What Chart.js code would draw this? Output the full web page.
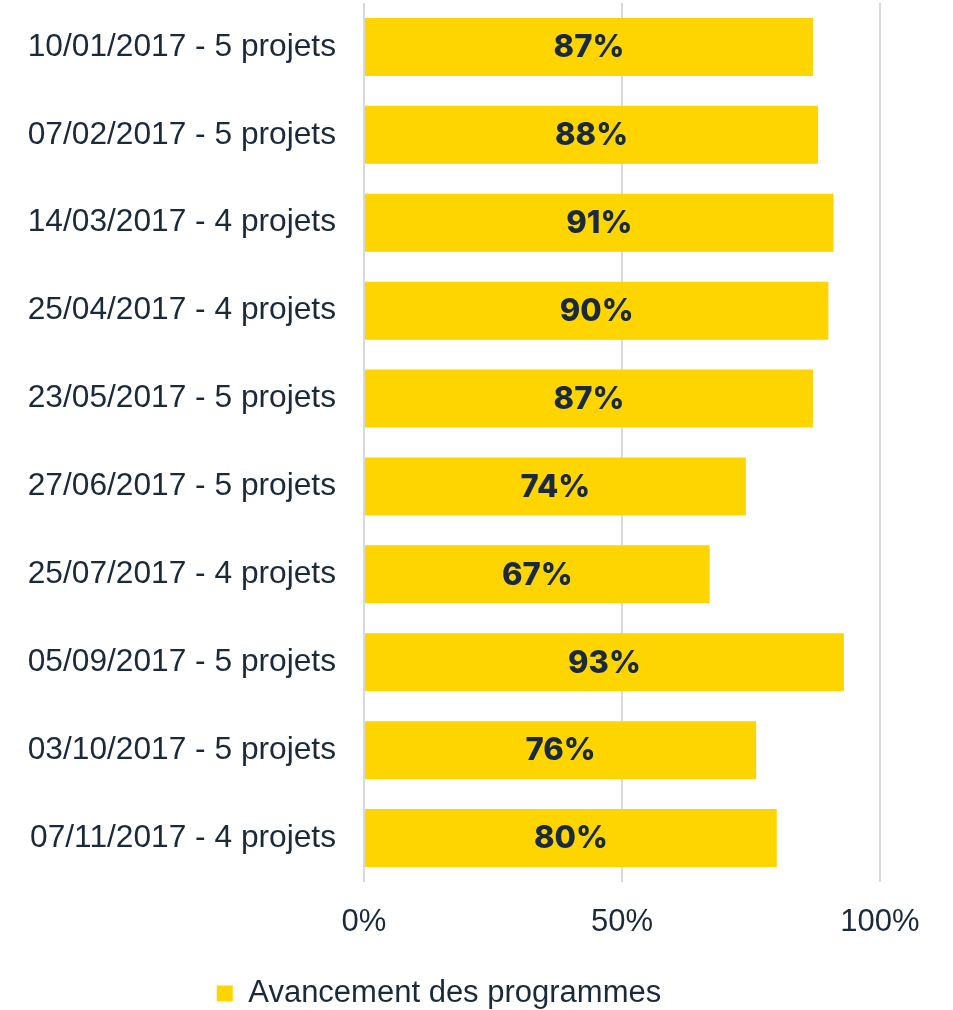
<!DOCTYPE html>
<html>
<head>
<meta charset="utf-8">
<script src="https://cdn.jsdelivr.net/npm/chart.js@4"></script>
<style>
    html, body { margin: 0; padding: 0; background: #ffffff; }
    #wrap { width: 953px; height: 1010px; }
</style>
</head>
<body>
<div id="wrap"><canvas id="myChart" width="953" height="1010"></canvas></div>
<script>
var categories = [
    '10/01/2017 - 5 projets',
    '07/02/2017 - 5 projets',
    '14/03/2017 - 4 projets',
    '25/04/2017 - 4 projets',
    '23/05/2017 - 5 projets',
    '27/06/2017 - 5 projets',
    '25/07/2017 - 4 projets',
    '05/09/2017 - 5 projets',
    '03/10/2017 - 5 projets',
    '07/11/2017 - 4 projets'
];
var avancement = [87, 88, 91, 90, 87, 74, 67, 93, 76, 80];
var tickValues = [0, 50, 100];
var seriesName = 'Avancement des programmes';

var navy = '#1b2a3a';
var jaune = '#ffd500';

// labels au centre des barres
let labelPlugin = {
    id: 'barLabels',
    afterDatasetsDraw: (chart) => {
        let ctx = chart.ctx;
        let meta = chart.getDatasetMeta(0);
        ctx.save();
        ctx.font = '800 31px Inter';
        ctx.fillStyle = navy;
        ctx.textAlign = 'center';
        ctx.textBaseline = 'middle';
        meta.data.forEach((bar, i) => {
            let cx = (bar.x + bar.base) / 2;
            ctx.fillText(avancement[i] + '%', cx, bar.y + 1);
        });
        ctx.restore();
    }
};

// legende un peu a gauche et plus bas, comme dans l'original
let legendShift = {
    id: 'legendShift',
    afterLayout: (chart) => {
        chart.legend.left -= 9;
        chart.legend.right -= 9;
        chart.legend.top += 9;
        chart.legend.bottom += 9;
    }
};

let config = {
    type: 'bar',
    data: {
        labels: categories,
        datasets: [{
            label: seriesName,
            data: avancement,
            backgroundColor: jaune,
            borderWidth: 0,
            barPercentage: 0.66,
            categoryPercentage: 1
        }]
    },
    options: {
        responsive: false,
        animation: false,
        indexAxis: 'y',
        layout: {
            padding: { left: 16, right: 73, top: 3, bottom: 0 }
        },
        scales: {
            x: {
                min: 0,
                max: 100,
                afterBuildTicks: (axis) => {
                    axis.ticks = tickValues.map(v => ({ value: v }));
                },
                afterFit: (scale) => {
                    scale.height = 87;
                    scale.paddingLeft = 0;
                    scale.paddingRight = 0;
                },
                grid: { color: '#d9d9d9', lineWidth: 2, drawTicks: false },
                border: { display: false },
                ticks: {
                    color: navy,
                    font: { family: 'Liberation Sans', size: 31 },
                    padding: 22,
                    callback: (v) => v + '%'
                }
            },
            y: {
                afterFit: (scale) => {
                    scale.width = 348;
                    scale.paddingTop = 0;
                    scale.paddingBottom = 0;
                },
                grid: { display: false, drawTicks: false },
                border: { display: false },
                ticks: {
                    color: navy,
                    font: { family: 'Liberation Sans', size: 31.7 },
                    padding: 28
                }
            }
        },
        plugins: {
            legend: {
                position: 'bottom',
                labels: {
                    color: navy,
                    font: { family: 'Liberation Sans', size: 31 },
                    boxWidth: 16,
                    boxHeight: 16,
                    padding: 0
                }
            },
            tooltip: { enabled: false }
        }
    },
    plugins: [labelPlugin, legendShift]
};

let mychart = new Chart(document.getElementById('myChart'), config);
</script>
</body>
</html>
